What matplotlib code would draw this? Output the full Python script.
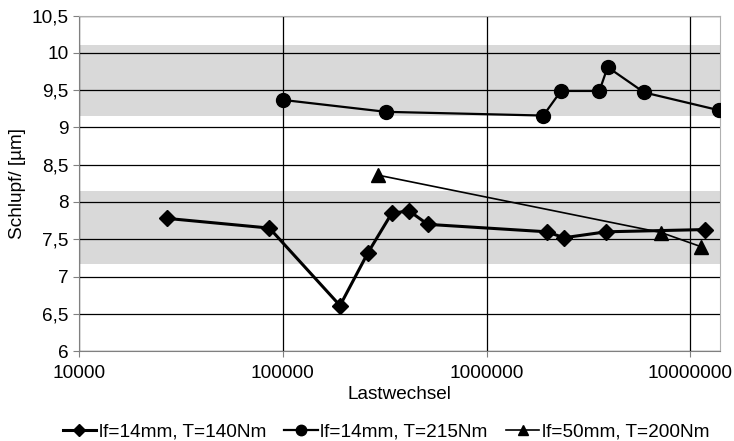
import numpy as np
import matplotlib
matplotlib.use("Agg")
import matplotlib.pyplot as plt

plt.rcParams['font.family'] = ['Liberation Sans', 'DejaVu Sans']

# Daten
x_140 = [27000, 86000, 191000, 262000, 343000, 417000, 515000, 1980000, 2400000, 3860000, 11750000]
y_140 = [7.78, 7.65, 6.61, 7.32, 7.85, 7.88, 7.70, 7.60, 7.52, 7.60, 7.63]

x_215 = [100000, 321000, 1900000, 2320000, 3580000, 3930000, 5940000, 13900000]
y_215 = [9.37, 9.21, 9.16, 9.49, 9.49, 9.81, 9.47, 9.23]

x_200 = [294000, 7200000, 11300000]
y_200 = [8.36, 7.59, 7.40]

labels = ["lf=14mm, T=140Nm", "lf=14mm, T=215Nm", "lf=50mm, T=200Nm"]
bands = [(7.17, 8.15), (9.15, 10.11)]
xticks = [10000, 100000, 1000000, 10000000]
yticks = np.arange(6, 10.51, 0.5)

fs = 13.7

fig = plt.figure(figsize=(7.34, 4.41), dpi=100)
ax = fig.add_axes([0.1076, 0.204, 0.8734, 0.7604])

for lo, hi in bands:
    ax.axhspan(lo, hi, color='#d9d9d9', zorder=0, lw=0)

ax.plot(x_140, y_140, color='black', lw=2.2, marker='D', ms=8, label=labels[0], zorder=3)
ax.plot(x_215, y_215, color='black', lw=1.6, marker='o', ms=10, label=labels[1], zorder=3)
ax.plot(x_200, y_200, color='black', lw=1.2, marker='^', ms=10, label=labels[2], zorder=3)

ax.set_xscale('log')
ax.set_xlim(10000, 1.4e7)
ax.set_ylim(6, 10.5)
ax.set_xticks(xticks)
ax.set_xticklabels([str(t) for t in xticks])
ax.xaxis.set_minor_locator(matplotlib.ticker.NullLocator())
ax.set_yticks(yticks)
ax.set_yticklabels([('%g' % t).replace('.', ',') for t in yticks])
ax.tick_params(labelsize=fs, length=4, color='#808080')
ax.tick_params(axis='x', pad=6)
ax.grid(True, color='black', lw=0.9, zorder=1)
ax.set_axisbelow(True)

for s in ['top', 'right']:
    ax.spines[s].set_color('#b0b0b0')
for s in ['left', 'bottom']:
    ax.spines[s].set_color('#808080')

ax.set_xlabel("Lastwechsel", fontsize=fs, labelpad=3)
ax.set_ylabel("Schlupf/ [µm]", fontsize=fs, labelpad=4)

fig.legend(loc='lower center', ncol=3, frameon=False, fontsize=fs,
           bbox_to_anchor=(0.526, -0.038), handlelength=1.75, handletextpad=0.15,
           columnspacing=0.95, markerscale=0.75)

fig.savefig("out.png", dpi=100)
